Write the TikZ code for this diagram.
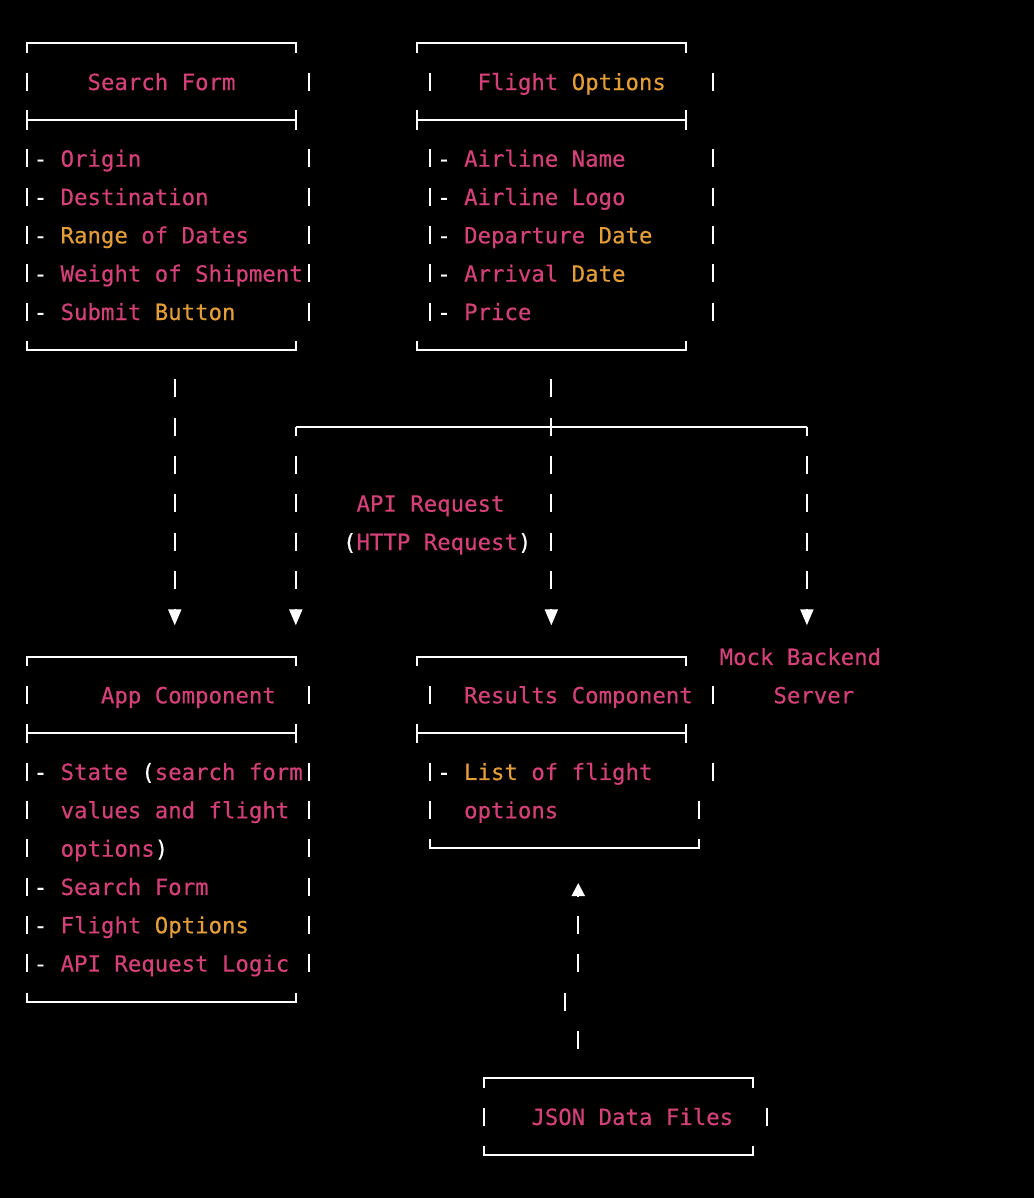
\documentclass[tikz,border=0pt]{standalone}
\usepackage{fontspec}
\usetikzlibrary{arrows.meta}
\newfontfamily\mono[FakeBold=0.4]{DejaVu Sans Mono}
\definecolor{pk}{RGB}{212,64,120}
\definecolor{og}{RGB}{228,158,56}
\newcommand\og[1]{\textcolor{og}{#1}}
\newcommand\wt[1]{\textcolor{white}{#1}}
\newcommand\dsh{\textcolor{white}{-}}

\begin{document}
\begin{tikzpicture}[x=13.45pt,y=-38.33pt,
	txt/.style={anchor=base west,inner sep=0pt,text=pk,font=\mono\fontsize{22.34pt}{26pt}\selectfont},
	rule/.style={draw=white,line width=2pt},
	bar/.style={draw=white,line width=2pt},
	pipe/.style={draw=white,line width=2pt,dash pattern=on 18pt off 20.33pt,-{Triangle[length=16pt,width=13pt]}}]
	\fill[black] (-1.993,-1.130) rectangle (74.886,30.125);
	\useasboundingbox (-1.993,-1.130) rectangle (74.886,30.125);
	% search form
	\draw[rule] (0,.245)--(0,0)--(20,0)--(20,.245);
	\draw[rule] (0,2)--(20,2) (0,1.75)--(0,2.25) (20,1.75)--(20,2.25);
	\draw[rule] (0,7.77)--(0,8)--(20,8)--(20,7.77);
	\foreach \r in {1,3,4,5,6,7} \draw[bar] (0,\r-.235)--(0,\r+.235) (21,\r-.235)--(21,\r+.235);
	\node[txt] (sf) at (4.5,1.219){Search Form};
	\node[txt] (sf1) at (.5,3.219){\dsh{} Origin};
	\node[txt] (sf2) at (.5,4.219){\dsh{} Destination};
	\node[txt] (sf3) at (.5,5.219){\dsh{} \og{Range} of Dates};
	\node[txt] (sf4) at (.5,6.219){\dsh{} Weight of Shipment};
	\node[txt] (sf5) at (.5,7.219){\dsh{} Submit \og{Button}};
	% flight options
	\draw[rule] (29,.245)--(29,0)--(49,0)--(49,.245);
	\draw[rule] (29,2)--(49,2) (29,1.75)--(29,2.25) (49,1.75)--(49,2.25);
	\draw[rule] (29,7.77)--(29,8)--(49,8)--(49,7.77);
	\foreach \r in {1,3,4,5,6,7} \draw[bar] (30,\r-.235)--(30,\r+.235) (51,\r-.235)--(51,\r+.235);
	\node[txt] (fo) at (33.5,1.219){Flight \og{Options}};
	\node[txt] (fo1) at (30.5,3.219){\dsh{} Airline Name};
	\node[txt] (fo2) at (30.5,4.219){\dsh{} Airline Logo};
	\node[txt] (fo3) at (30.5,5.219){\dsh{} Departure \og{Date}};
	\node[txt] (fo4) at (30.5,6.219){\dsh{} Arrival \og{Date}};
	\node[txt] (fo5) at (30.5,7.219){\dsh{} Price};
	% links
	\coordinate (sfout) at (11,8.765);
	\coordinate (appin) at (11,15.184);
	\coordinate (foout) at (39,8.765);
	\coordinate (resin) at (39,15.184);
	\coordinate (railw) at (20,10);
	\coordinate (raile) at (58,10);
	\coordinate (appin2) at (20,15.184);
	\coordinate (mockin) at (58,15.184);
	\draw[pipe] (sfout)--(appin);
	\draw[pipe] (foout)--(resin);
	\draw[rule] (railw)--(raile);
	\draw[pipe,dash phase=9pt] (railw)--(appin2);
	\draw[pipe,dash phase=9pt] (raile)--(mockin);
	\node[txt] (api) at (24.5,12.219){API Request};
	\node[txt] (http) at (23.5,13.219){\wt{(}HTTP Request\wt{)}};
	% app component
	\draw[rule] (0,16.245)--(0,16)--(20,16)--(20,16.245);
	\draw[rule] (0,18)--(20,18) (0,17.75)--(0,18.25) (20,17.75)--(20,18.25);
	\draw[rule] (0,24.77)--(0,25)--(20,25)--(20,24.77);
	\foreach \r in {17,19,20,21,22,23,24} \draw[bar] (0,\r-.235)--(0,\r+.235) (21,\r-.235)--(21,\r+.235);
	\node[txt] (app) at (5.5,17.219){App Component};
	\node[txt] (app1) at (.5,19.219){\dsh{} State \wt{(}search form};
	\node[txt] (app1b) at (2.5,20.219){values and flight};
	\node[txt] (app1c) at (2.5,21.219){options\wt{)}};
	\node[txt] (app2) at (.5,22.219){\dsh{} Search Form};
	\node[txt] (app3) at (.5,23.219){\dsh{} Flight \og{Options}};
	\node[txt] (app4) at (.5,24.219){\dsh{} API Request Logic};
	% results component
	\draw[rule] (29,16.245)--(29,16)--(49,16)--(49,16.245);
	\draw[rule] (29,18)--(49,18) (29,17.75)--(29,18.25) (49,17.75)--(49,18.25);
	\draw[rule] (30,20.77)--(30,21)--(50,21)--(50,20.77);
	\foreach \r in {17,19,20} \draw[bar] (30,\r-.235)--(30,\r+.235);
	\foreach \r in {17,19} \draw[bar] (51,\r-.235)--(51,\r+.235);
	\draw[bar] (50,19.765)--(50,20.235);
	\node[txt] (res) at (32.5,17.219){Results Component};
	\node[txt] (res1) at (30.5,19.219){\dsh{} \og{List} of flight};
	\node[txt] (res1b) at (32.5,20.219){options};
	% mock backend
	\node[txt] (mock) at (51.5,16.219){Mock Backend};
	\node[txt] (mockb) at (55.5,17.219){Server};
	% json data files
	\draw[rule] (34,27.245)--(34,27)--(54,27)--(54,27.245);
	\draw[rule] (34,28.77)--(34,29)--(54,29)--(54,28.77);
	\draw[bar] (34,27.765)--(34,28.235) (55,27.765)--(55,28.235);
	\node[txt] (json) at (37.5,28.219){JSON Data Files};
	\coordinate (jsonout) at (41,26.235);
	\coordinate (resin2) at (41,21.907);
	\draw[pipe,-{Triangle[length=13pt,width=13pt]}] (jsonout)--++(0,-.47) ++(-1,-.53)--++(0,-.47) ++(1,-.53)--(resin2);
\end{tikzpicture}
\end{document}
